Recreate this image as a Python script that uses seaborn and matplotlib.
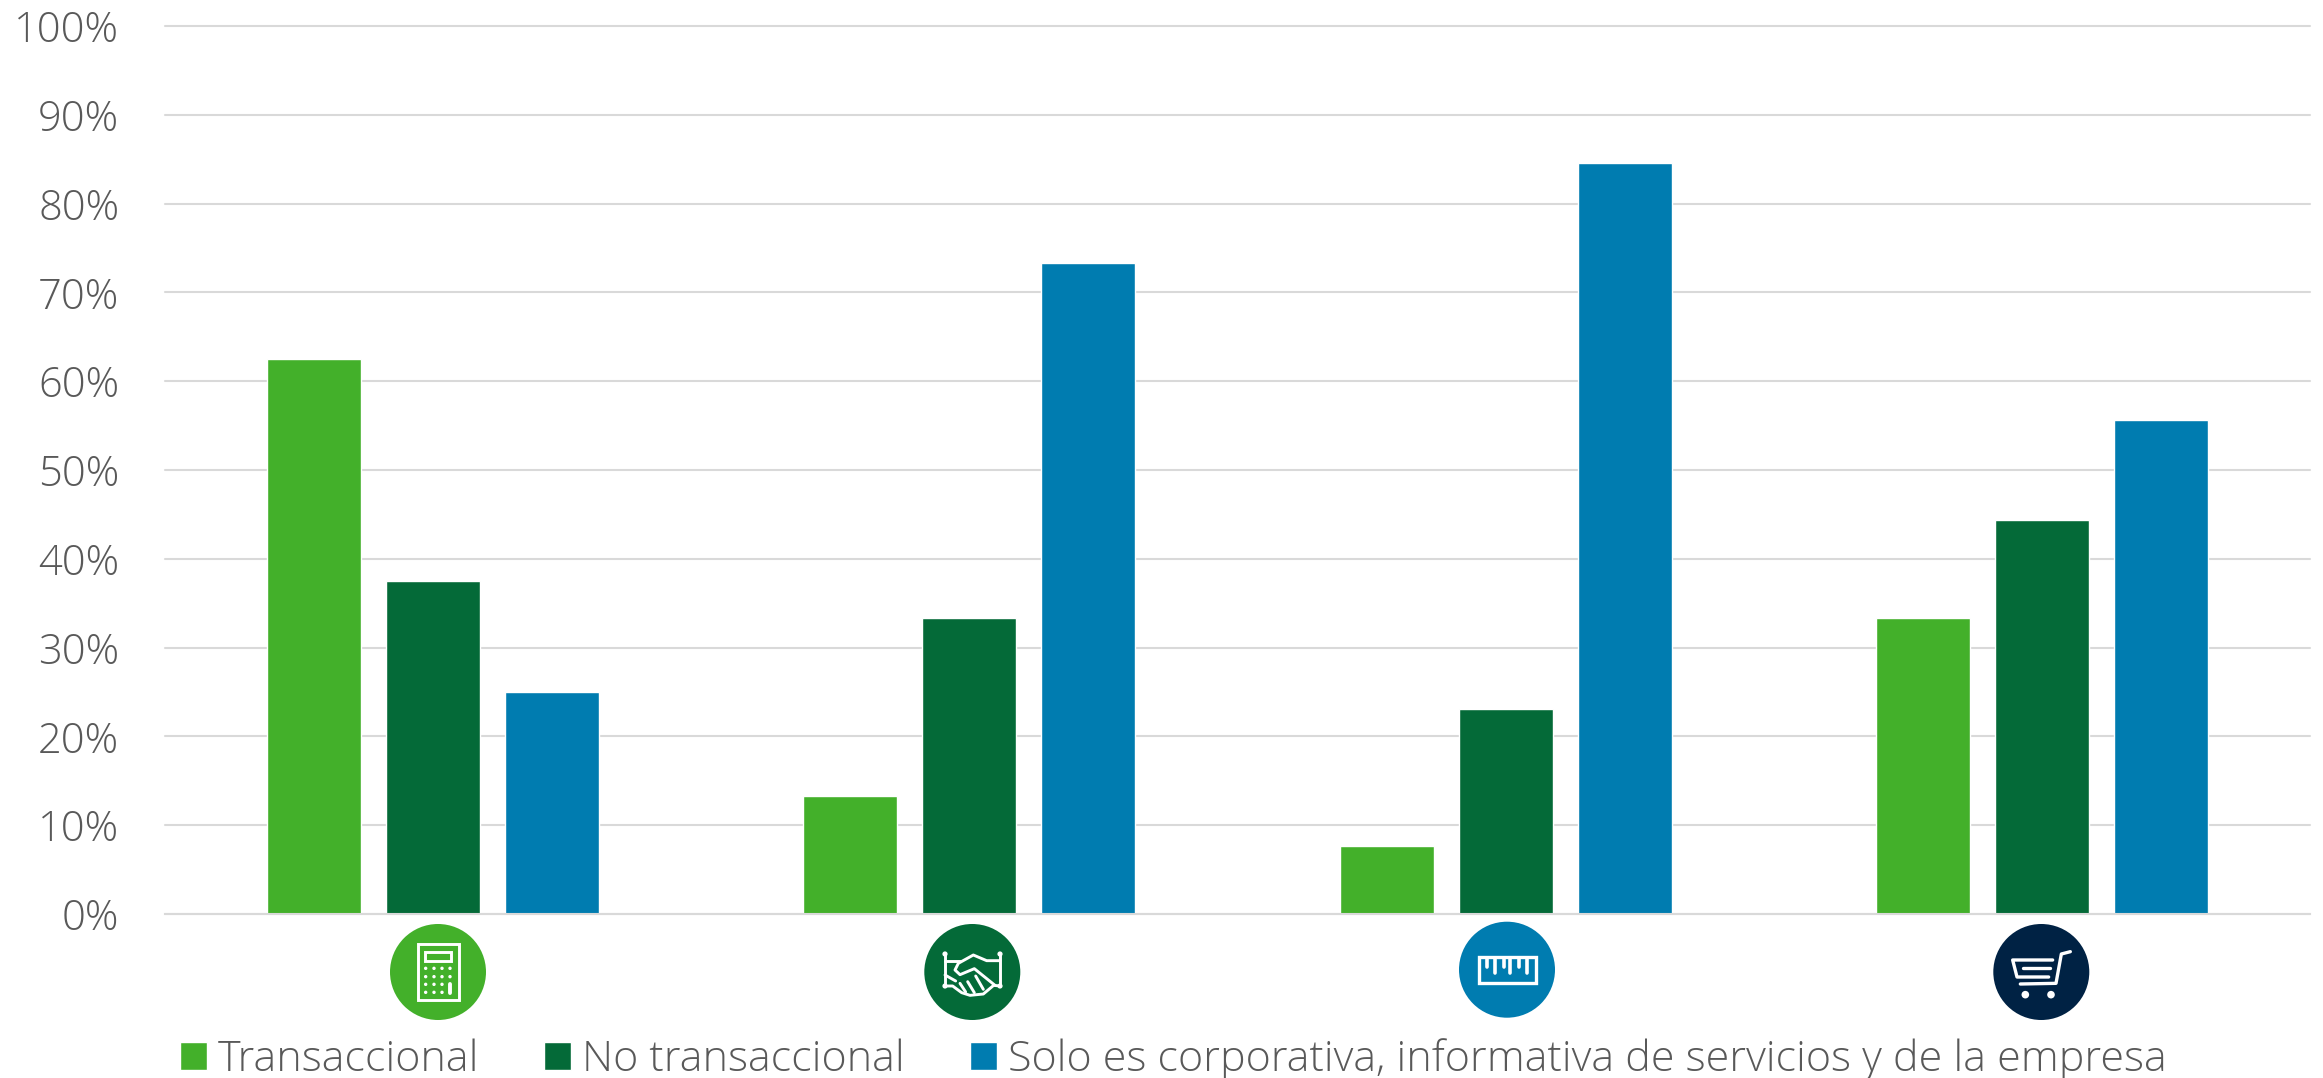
import matplotlib
matplotlib.use("Agg")
import matplotlib.pyplot as plt
from matplotlib.patches import Rectangle
import seaborn as sns
import pandas as pd

W, H = 2323, 1078
groups = ["Calculadora", "Acuerdo", "Regla", "Carrito"]
series = ["Transaccional", "No transaccional", "Solo es corporativa, informativa de servicios y de la empresa"]
transaccional = [62.5, 13.3, 7.7, 33.3]
no_transaccional = [37.5, 33.3, 23.1, 44.4]
solo_corporativa = [25.0, 73.3, 84.6, 55.6]
colors = ["#43B02A", "#046A38", "#007CB0"]
yticks = [0, 10, 20, 30, 40, 50, 60, 70, 80, 90, 100]

df = pd.DataFrame({"grupo": groups * 3,
                   "serie": [series[0]] * 4 + [series[1]] * 4 + [series[2]] * 4,
                   "valor": transaccional + no_transaccional + solo_corporativa})

sns.set_theme(style="white")
plt.rcParams["font.family"] = ["Open Sans", "DejaVu Sans"]
plt.rcParams["font.weight"] = 300
fig = plt.figure(figsize=(W / 100, H / 100), dpi=100)
ax = fig.add_axes([165 / W, 1 - 914 / H, (2310 - 165) / W, (914 - 26) / H])
sns.barplot(data=df, x="grupo", y="valor", hue="serie", order=groups, hue_order=series,
            palette=colors, width=0.666, gap=0.21, saturation=1, ax=ax, legend=True)
ax.set_xlim(-0.5, 3.5)
ax.set_ylim(0, 100)
ax.set_xlabel(""); ax.set_ylabel("")
ax.set_yticks(yticks)
ax.set_yticklabels([f"{v}%" for v in yticks], fontsize=30, color="#595959", fontweight=300)
ax.set_xticks([])
ax.tick_params(axis="y", length=0, pad=33)
ax.grid(axis="y", color="#D9D9D9", linewidth=1.5, clip_on=False)
ax.set_axisbelow(True)
for s in ["top", "left", "right"]:
    ax.spines[s].set_visible(False)
ax.spines["bottom"].set_color("#D9D9D9")
ax.spines["bottom"].set_linewidth(1.5)

handles, labels = ax.get_legend_handles_labels()
ax.legend(handles, labels, ncol=3, frameon=False, loc="lower left",
          bbox_to_anchor=(180 / W, -3 / H), bbox_transform=fig.transFigure,
          prop={"family": "Open Sans", "weight": 300, "size": 31}, labelcolor="#595959",
          handlelength=0.62, handleheight=0.62,
          handletextpad=0.25, columnspacing=1.52, borderpad=0, borderaxespad=0)

# Icons, traced in 3x crop coordinates of the figure's pixels
ov = fig.add_axes([0, 0, 1, 1], facecolor="none")
ov.set_xlim(0, W); ov.set_ylim(H, 0); ov.axis("off")
R = 48
LW = 2.1

def disc(x, y, c):
    ov.add_patch(plt.Circle((x, y), R, color=c, lw=0))

def icon_tools(ox, oy):
    def line(pts, lw=LW):
        ov.plot([ox + p[0] / 3 for p in pts], [oy + p[1] / 3 for p in pts], color="white", lw=lw,
                solid_capstyle="round", solid_joinstyle="round")
    def dot(x, y, r=1.7):
        ov.add_patch(plt.Circle((ox + x / 3, oy + y / 3), r, color="white", lw=0))
    def box(x0, y0, x1, y1, lw=LW):
        ov.add_patch(Rectangle((ox + x0 / 3, oy + y0 / 3), (x1 - x0) / 3, (y1 - y0) / 3,
                               fill=False, ec="white", lw=lw))
    return line, dot, box

# calculator
disc(438, 972, "#43B02A")
line, dot, box = icon_tools(380, 920)
box(114, 72, 236, 240)
box(136, 96, 214, 122)
for j, yy in enumerate([145, 170, 193, 217]):
    for i, xx in enumerate([137, 162, 186, 210]):
        if j >= 2 and i == 3:
            continue
        dot(xx, yy)
line([(210, 193), (210, 220)], 2.8)

# handshake
disc(972.3, 972, "#046A38")
line, dot, box = icon_tools(915, 920)
line([(90, 102), (90, 198)]); line([(255, 102), (255, 198)])
dot(90, 102, 2.6); dot(255, 102, 2.6); dot(90, 198, 2.6); dot(255, 198, 2.6)
line([(90, 122), (135, 122)])
line([(122, 183), (90, 165)])
line([(90, 198), (113, 198), (140, 218), (165, 226), (205, 222), (236, 196), (255, 198)])
line([(255, 122), (215, 122), (175, 105), (130, 130), (120, 150), (135, 164), (178, 146), (240, 196)])
line([(135, 190), (152, 216)]); line([(158, 185), (178, 218)]); line([(182, 168), (205, 208)])

# ruler
disc(1507, 969.7, "#007CB0")
line, dot, box = icon_tools(1447, 915)
box(95, 127, 268, 204, 2.4)
for i, xx in enumerate([120, 145, 170, 190, 215, 240]):
    line([(xx, 130), (xx, 175 if i % 2 else 155)], 2.6)

# shopping cart
disc(2041.3, 972, "#002244")
line, dot, box = icon_tools(1982, 920)
line([(212, 120), (92, 120), (105, 171), (200, 171)], 2.4)
line([(122, 145), (205, 145)], 2.4)
line([(265, 95), (238, 102), (222, 190), (115, 192)], 2.4)
dot(130, 224, 3.8); dot(207, 224, 3.8)

fig.savefig("out.png", dpi=100, facecolor="white")
